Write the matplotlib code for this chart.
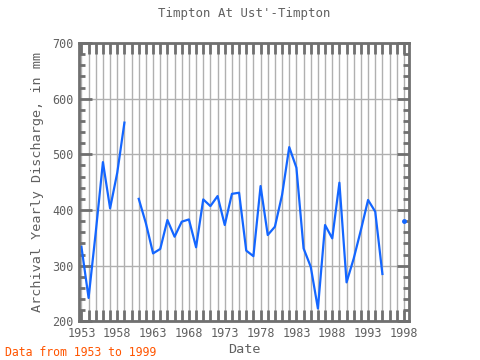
import numpy as np
import matplotlib
matplotlib.use("Agg")
import matplotlib.pyplot as plt

years = [1953, 1954, 1955, 1956, 1957, 1958, 1959, 1960,
         1961, 1962, 1963, 1964, 1965, 1966, 1967, 1968, 1969, 1970,
         1971, 1972, 1973, 1974, 1975, 1976, 1977, 1978, 1979, 1980,
         1981, 1982, 1983, 1984, 1985, 1986, 1987, 1988, 1989, 1990,
         1991, 1992, 1993, 1994, 1995, 1996, 1997, 1998]
discharge = [334, 242, 360, 486, 403, 467, 557, np.nan,
             420, 376, 322, 330, 382, 352, 379, 383, 333, 419,
             407, 425, 373, 429, 431, 327, 317, 443, 355, 370,
             427, 513, 476, 331, 298, 223, 373, 349, 449, 270,
             313, 364, 418, 397, 285, np.nan, np.nan, 380]
xticks = [1953, 1958, 1963, 1968, 1973, 1978, 1983, 1988, 1993, 1998]

plt.rcParams['font.family'] = 'DejaVu Sans Mono'
grey = '#707070'
txt = '#606060'

fig = plt.figure(figsize=(4.8, 3.6), dpi=100)
ax = fig.add_axes([0.165, 0.1075, 0.6875, 0.773])

ax.plot(years, discharge, color='#1466ff', lw=1.6)
ax.plot([1998], [380], marker='o', ms=2.5, color='#1466ff')

ax.set_xlim(1952.69, 1998.74)
ax.set_ylim(200, 700)
ax.set_xticks(xticks)
ax.set_xticks(range(1953, 1999), minor=True)
ax.set_yticks(range(200, 701, 100))
ax.set_yticks(range(200, 701, 20), minor=True)
ax.grid(True, which='both', axis='x', color='#b0b0b0', lw=1)
ax.grid(True, which='major', axis='y', color='#b0b0b0', lw=1)

for s in ax.spines.values():
    s.set_color(grey)
    s.set_linewidth(2)

ax.tick_params(axis='x', which='both', direction='in', top=True, length=8,
               width=2, color=grey, labelcolor=txt, labelsize=8.5, pad=4)
ax.tick_params(axis='y', which='minor', direction='in', right=True, length=4,
               width=2, color=grey)
ax.tick_params(axis='y', which='major', direction='in', right=True, length=9,
               width=2, color=grey, labelcolor=txt, labelsize=8.5, pad=4)

ax.set_title("Timpton At Ust'-Timpton", color=txt, fontsize=8.9, pad=19)
ax.set_xlabel("Date", color=txt, fontsize=9.7, labelpad=2)
ax.set_ylabel("Archival Yearly Discharge, in mm", color=txt, fontsize=9.7,
              labelpad=6)
fig.text(0.01, 0.012, "Data from 1953 to 1999", color='#ff5500', fontsize=8.3)

fig.savefig('out.png', dpi=100)
